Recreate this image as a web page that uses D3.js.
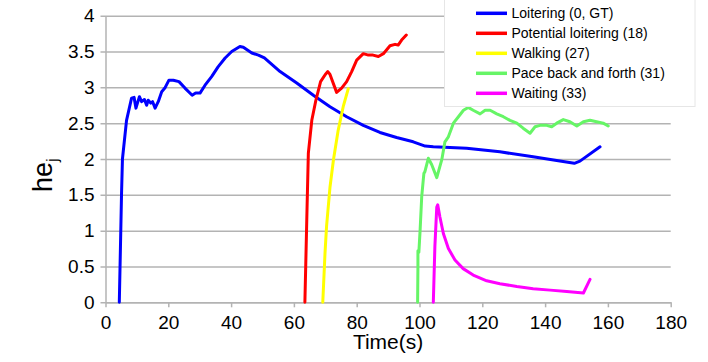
<!DOCTYPE html>
<html>
<head>
<meta charset="utf-8">
<script src="https://cdn.jsdelivr.net/npm/d3@7"></script>
<style>
  body { margin: 0; background: #fff; }
  text { font-family: "Liberation Sans", Arial, sans-serif; fill: #000; }
</style>
</head>
<body>
<div id="vis"></div>
<script>
// ---- data ----
const seriesNames = ["Loitering (0, GT)", "Potential loitering (18)", "Walking (27)",
                     "Pace back and forth (31)", "Waiting (33)"];
const seriesColors = ["#0000ff", "#ff0000", "#ffff00", "#66f566", "#ff00ff"];

const loiterT = [4.4, 5.1, 5.4, 6.7, 8.3, 9.1, 9.7, 10.8, 11.5, 12.4, 13.1, 13.6, 14.4, 15.0,
                 15.8, 16.8, 17.9, 18.9, 20.2, 21.6, 23.4, 25.3, 27.6, 28.7, 30.1, 31.7, 33.8,
                 35.9, 38.1, 40.2, 42.8, 43.9, 46.6, 48.7, 50.6, 55.6, 60.9, 66.2, 71.5, 76.8,
                 82.1, 87.4, 92.7, 98.0, 101.8, 104.4, 109.7, 115.0, 125.6, 136.2, 143.7,
                 149.3, 151.1, 157.5];
const loiterV = [0, 1.5, 2.0, 2.54, 2.85, 2.86, 2.71, 2.87, 2.80, 2.83, 2.75, 2.82, 2.78, 2.80,
                 2.71, 2.80, 2.94, 2.99, 3.10, 3.10, 3.08, 2.99, 2.89, 2.92, 2.92, 3.03, 3.15,
                 3.29, 3.41, 3.50, 3.57, 3.56, 3.48, 3.45, 3.41, 3.22, 3.06, 2.89, 2.73, 2.59,
                 2.47, 2.37, 2.30, 2.24, 2.18, 2.17, 2.16, 2.15, 2.10, 2.03, 1.98,
                 1.94, 1.97, 2.17];

const potentialT = [63.5, 64.1, 64.6, 65.7, 67.0, 68.5, 70.0, 70.8, 71.5, 73.6, 75.2, 76.8,
                    78.4, 80.0, 82.1, 83.7, 85.2, 86.9, 88.5, 90.6, 92.2, 93.2, 94.3, 95.8];
const potentialV = [0, 1.15, 2.08, 2.54, 2.82, 3.08, 3.18, 3.22, 3.18, 2.93, 2.99, 3.08,
                    3.22, 3.38, 3.47, 3.45, 3.45, 3.43, 3.47, 3.58, 3.60, 3.59, 3.66, 3.73];

const walkingT = [69.2, 69.9, 70.4, 71.5, 72.6, 74.1, 75.7, 77.3];
const walkingV = [0, 0.68, 1.06, 1.61, 1.99, 2.40, 2.73, 2.98];

const paceT = [99.4, 99.5, 99.5, 99.8, 100.2, 100.7, 101.2, 101.4, 101.7, 102.8, 103.9, 105.5,
               107.1, 108.1, 109.2, 110.8, 112.4, 114.0, 115.5, 117.1, 119.3, 120.9, 122.5,
               124.6, 126.7, 128.8, 131.0, 133.0, 135.2, 136.8, 138.4, 140.5, 142.1, 143.7,
               145.8, 147.9, 150.1, 152.2, 154.3, 156.4, 158.5, 160.1];
const paceV = [0, 0.5, 0.72, 0.70, 1.01, 1.47, 1.71, 1.80, 1.82, 2.01, 1.92, 1.74,
               1.99, 2.24, 2.31, 2.50, 2.59, 2.68, 2.72, 2.68, 2.63, 2.68, 2.68,
               2.63, 2.59, 2.54, 2.50, 2.43, 2.36, 2.45, 2.47, 2.47, 2.45, 2.50,
               2.55, 2.52, 2.46, 2.52, 2.54, 2.52, 2.50, 2.46];

const waitingT = [104.4, 104.9, 105.5, 105.8, 106.5, 107.6, 109.2, 111.3, 113.9, 117.1, 121.4,
                  125.6, 131.0, 136.2, 141.6, 146.9, 152.2, 154.3];
const waitingV = [0, 0.78, 1.33, 1.36, 1.19, 0.96, 0.75, 0.59, 0.47, 0.38, 0.30,
                  0.26, 0.22, 0.19, 0.17, 0.15, 0.13, 0.32];

const xTicks = [0, 20, 40, 60, 80, 100, 120, 140, 160, 180];
const yTicks = [0, 0.5, 1, 1.5, 2, 2.5, 3, 3.5, 4];

// pair up times and values per series
const allT = [loiterT, potentialT, walkingT, paceT, waitingT];
const allV = [loiterV, potentialV, walkingV, paceV, waitingV];
const series = seriesNames.map((name, i) => ({
  name: name,
  color: seriesColors[i],
  points: allT[i].map((t, j) => [t, allV[i][j]])
}));

// ---- frame ----
const WIDTH = 708, HEIGHT = 362;
const MARGINS = {left: 105.5, right: 37.3, top: 15.7, bottom: 59.7};

const svg = d3.select("#vis")
  .append("svg")
    .attr("width", WIDTH)
    .attr("height", HEIGHT);

const xScale = d3.scaleLinear()
  .domain([0, 180])
  .range([MARGINS.left, WIDTH - MARGINS.right]);

const yScale = d3.scaleLinear()
  .domain([0, 4])
  .range([HEIGHT - MARGINS.bottom, MARGINS.top]);

// horizontal grid lines (the y axis with long ticks)
const yAxis = svg.append("g")
  .attr("transform", `translate(${MARGINS.left},0)`)
  .call(d3.axisLeft(yScale)
          .tickValues(yTicks)
          .tickFormat(d3.format("~g"))
          .tickSizeInner(-(xScale(180) - xScale(0)))
          .tickSizeOuter(0)
          .tickPadding(11));
yAxis.selectAll("line").attr("stroke", "#b3b3b3").attr("stroke-width", 1.5)
  .attr("x1", -5);
yAxis.select(".domain").attr("stroke", "#b3b3b3").attr("stroke-width", 1.5);
yAxis.selectAll("text").style("font-size", "19px")
  .style("font-family", "'Liberation Sans', Arial, sans-serif").attr("fill", "#000");

// bottom axis
const xAxis = svg.append("g")
  .attr("transform", `translate(0,${yScale(0)})`)
  .call(d3.axisBottom(xScale)
          .tickValues(xTicks)
          .tickSizeInner(5)
          .tickSizeOuter(0)
          .tickPadding(8));
xAxis.selectAll("line").attr("stroke", "#b3b3b3").attr("stroke-width", 1.5);
xAxis.select(".domain").attr("stroke", "#b3b3b3").attr("stroke-width", 1.5);
xAxis.selectAll("text").style("font-size", "19px")
  .style("font-family", "'Liberation Sans', Arial, sans-serif").attr("fill", "#000");

// ---- the curves ----
const line = d3.line()
  .x(d => xScale(d[0]))
  .y(d => yScale(d[1]));

svg.append("g")
  .selectAll("path")
  .data(series)
  .enter()
  .append("path")
    .attr("d", d => line(d.points))
    .attr("fill", "none")
    .attr("stroke", d => d.color)
    .attr("stroke-width", 3)
    .attr("stroke-linejoin", "round")
    .attr("stroke-linecap", "round");

// ---- axis titles ----
svg.append("text")
  .attr("x", (xScale(0) + xScale(180)) / 2)
  .attr("y", 349)
  .attr("text-anchor", "middle")
  .style("font-size", "21px")
  .text("Time(s)");

const yTitle = svg.append("text")
  .attr("transform", "translate(51.5,192) rotate(-90)")
  .style("font-size", "27px");
yTitle.append("tspan").text("he");
yTitle.append("tspan")
  .attr("dy", 6)
  .style("font-size", "17px")
  .text("j");

// ---- legend ----
const legend = svg.append("g");
legend.append("rect")
  .attr("x", 444.5)
  .attr("y", -1)
  .attr("width", 250.5)
  .attr("height", 107.5)
  .attr("fill", "#fff")
  .attr("stroke", "#e6e6e6");

const rows = legend.selectAll("g.row")
  .data(series)
  .enter()
  .append("g")
    .attr("class", "row")
    .attr("transform", (d, i) => `translate(0,${13.3 + i * 20})`);

rows.append("line")
  .attr("x1", 476)
  .attr("x2", 507)
  .attr("stroke", d => d.color)
  .attr("stroke-width", 3.5);

rows.append("text")
  .attr("x", 511.5)
  .attr("dy", "0.36em")
  .style("font-size", "14px")
  .text(d => d.name);
</script>
</body>
</html>
